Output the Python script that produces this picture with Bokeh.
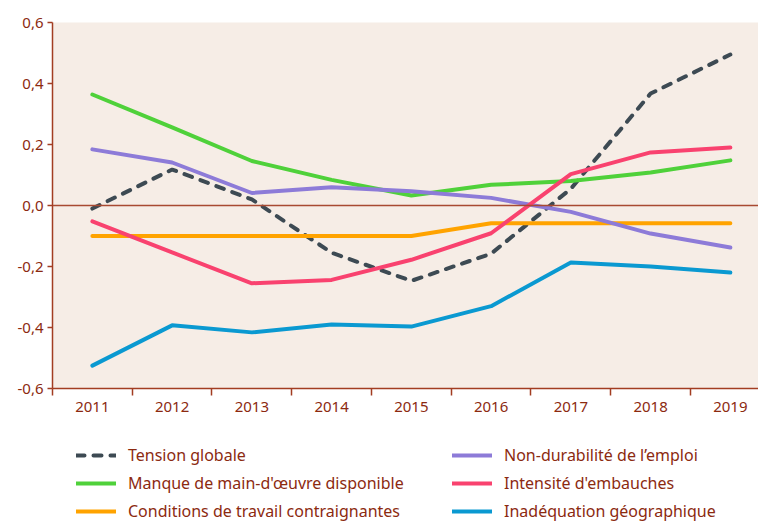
from bokeh.plotting import figure
from bokeh.layouts import column
from bokeh.models import FixedTicker, Legend, LegendItem, Span
from bokeh.embed import file_html
from bokeh.resources import INLINE

years = [2011, 2012, 2013, 2014, 2015, 2016, 2017, 2018, 2019]
tension_globale = [-0.01, 0.118, 0.02, -0.155, -0.247, -0.158, 0.055, 0.367, 0.495]
manque_main_oeuvre = [0.364, 0.256, 0.146, 0.084, 0.033, 0.068, 0.08, 0.108, 0.148]
conditions_travail = [-0.1, -0.1, -0.1, -0.1, -0.1, -0.058, -0.058, -0.058, -0.058]
non_durabilite = [0.184, 0.141, 0.041, 0.06, 0.047, 0.025, -0.021, -0.092, -0.138]
intensite_embauches = [-0.052, -0.154, -0.255, -0.244, -0.178, -0.091, 0.103, 0.174, 0.19]
inadequation_geo = [-0.525, -0.393, -0.416, -0.39, -0.397, -0.33, -0.187, -0.2, -0.22]

series_labels = ["Tension globale", "Manque de main-d'œuvre disponible",
                 "Conditions de travail contraignantes", "Non-durabilité de l’emploi",
                 "Intensité d'embauches", "Inadéquation géographique"]

y_ticks = [-0.6, -0.4, -0.2, 0.0, 0.2, 0.4, 0.6]
y_labels = ["-0,6", "-0,4", "-0,2", "0,0", "0,2", "0,4", "0,6"]
year_bounds = [2010.5, 2011.5, 2012.5, 2013.5, 2014.5, 2015.5, 2016.5, 2017.5, 2018.5]

TEXT = "#8c2a10"
AXIS = "#a23d22"
FONT = "Noto Sans"
W = 4
styles = [
    dict(line_color="#3d4a53", line_width=W, line_dash="8 9", line_cap="round"),
    dict(line_color="#4fd13a", line_width=W, line_cap="round"),
    dict(line_color="#ffa300", line_width=W, line_cap="round"),
    dict(line_color="#8d7bd8", line_width=W, line_cap="round"),
    dict(line_color="#f9426f", line_width=W, line_cap="round"),
    dict(line_color="#0a99d1", line_width=W, line_cap="round"),
]
series = [tension_globale, manque_main_oeuvre, conditions_travail,
          non_durabilite, intensite_embauches, inadequation_geo]

p = figure(width=758, height=428, output_backend="svg", toolbar_location=None,
           x_range=(2010.5, 2019.353), y_range=(-0.6, 0.6),
           min_border_left=52, min_border_right=0, min_border_top=22, min_border_bottom=40)
p.background_fill_color = "#f6ede6"
p.border_fill_color = "white"
p.outline_line_color = None
p.grid.visible = False

p.xaxis.ticker = FixedTicker(ticks=years, minor_ticks=year_bounds)
p.xaxis.major_tick_line_color = None
p.xaxis.major_tick_out = 0
p.xaxis.major_tick_in = 0
p.xaxis.minor_tick_out = 7
p.xaxis.minor_tick_in = 0
p.xaxis.minor_tick_line_color = AXIS
p.xaxis.minor_tick_line_width = 1.5
p.xaxis.major_label_standoff = 6

p.yaxis.ticker = FixedTicker(ticks=y_ticks)
p.yaxis.major_label_overrides = {t: l for t, l in zip(y_ticks, y_labels)}
p.yaxis.major_tick_out = 5
p.yaxis.major_tick_in = 0
p.yaxis.minor_tick_line_color = None
p.yaxis.major_tick_line_color = AXIS
p.yaxis.major_tick_line_width = 1.5
p.yaxis.major_label_standoff = 4

for ax in (p.xaxis, p.yaxis):
    ax.axis_line_color = AXIS
    ax.axis_line_width = 1.5
    ax.major_label_text_color = TEXT
    ax.major_label_text_font = FONT
    ax.major_label_text_font_size = "15px"

p.add_layout(Span(location=0, dimension="width", line_color="#a84a32", line_width=1.5))

for vals, st in zip(series, styles):
    p.line(years, vals, **st)

# legend panel (separate figure; sample renderers without visible data carry the styles)
q = figure(width=758, height=94, output_backend="svg", toolbar_location=None,
           min_border_left=0, min_border_right=0, min_border_top=0, min_border_bottom=0)
q.axis.visible = False
q.grid.visible = False
q.outline_line_color = None
q.background_fill_color = "white"
q.border_fill_color = "white"
nan = float("nan")
items = []
for lab, st in zip(series_labels, styles):
    r = q.line(x=[nan, nan], y=[nan, nan], **st)
    items.append(LegendItem(label=lab, renderers=[r]))

legend = Legend(items=items, orientation="vertical", ncols=2, location=(24, 0),
                label_text_font=FONT, label_text_font_size="16px", label_text_color=TEXT,
                glyph_width=40, glyph_height=18, label_height=18, label_standoff=12,
                label_width=318, spacing=6, padding=0, margin=0,
                border_line_color=None, background_fill_alpha=0)
q.add_layout(legend, "center")

layout = column(p, q, spacing=0)
open("out.html", "w").write(file_html(layout, INLINE))
